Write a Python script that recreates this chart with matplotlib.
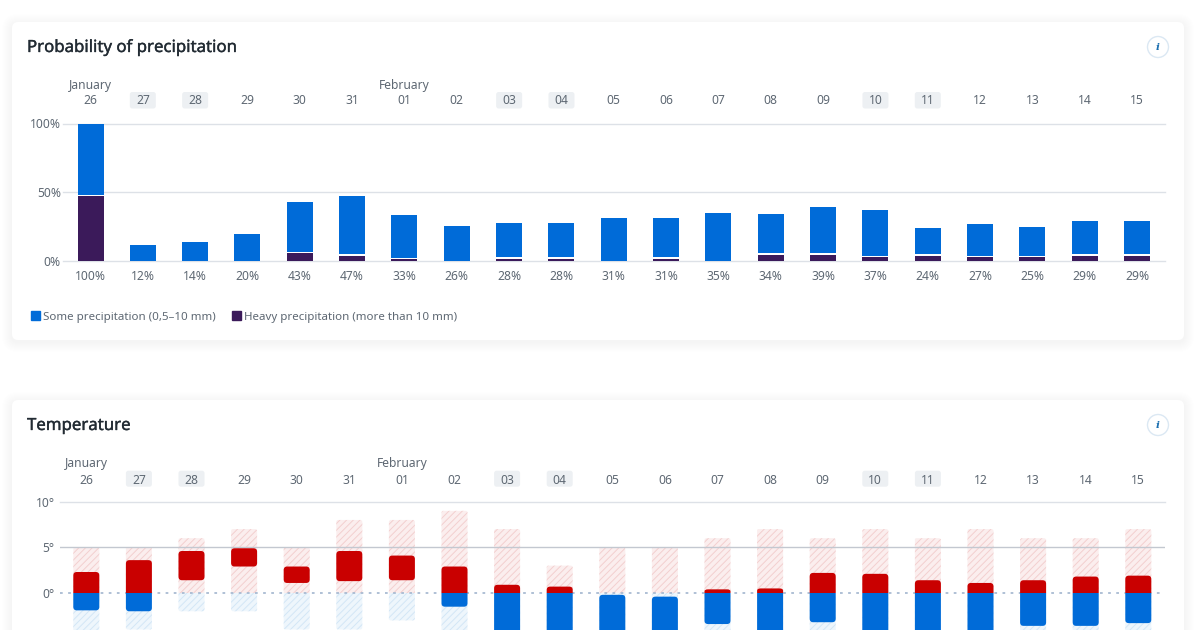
"""Probability of precipitation and temperature cards from a long range forecast."""

import matplotlib

matplotlib.use("Agg")
import matplotlib.patheffects as pe
import matplotlib.pyplot as plt
import numpy as np
from matplotlib.patches import Circle, FancyBboxPatch, Patch, PathPatch
from matplotlib.path import Path
from matplotlib.transforms import blended_transform_factory

# ===== Data =====
DAYS = ["26", "27", "28", "29", "30", "31", "01", "02", "03", "04", "05",
        "06", "07", "08", "09", "10", "11", "12", "13", "14", "15"]
WEEKEND = [1, 2, 8, 9, 15, 16]
MONTHS = [(0, "January"), (6, "February")]

PRECIP_LABELS = [100, 12, 14, 20, 43, 47, 33, 26, 28, 28, 31,
                 31, 35, 34, 39, 37, 24, 27, 25, 29, 29]
PRECIP_TOTAL = [100, 11.3, 13.3, 19, 43, 47.2, 33.2, 25, 27.4, 27.4, 30.8,
                31.2, 34.7, 33.7, 38.7, 36.7, 23.7, 26.6, 24.8, 28.8, 28.8]
PRECIP_HEAVY = [47, 0, 0, 0, 5.3, 3.4, 1, 0, 1.2, 1.2, 0,
                1.2, 0, 4.3, 4.3, 2.3, 3.3, 2.3, 2.3, 3.3, 3.3]
PRECIP_TICKS = [0, 50, 100]

TEMP_LIGHT_HIGH = [5, 5, 6, 7, 5, 8, 8, 9, 7, 3, 5, 5, 6, 7, 6, 7, 6, 7, 6, 6, 7]
TEMP_LIGHT_LOW = [-5, -4, -2, -2, -4, -4, -3, -5, -7, -7, -7,
                  -7, -5, -7, -5, -7, -7, -7, -5, -5, -5]
TEMP_HIGH = [2.3, 3.6, 4.6, 4.9, 2.9, 4.6, 4.1, 2.9, 0.9, 0.7, -0.2,
             -0.4, 0.4, 0.5, 2.2, 2.1, 1.4, 1.1, 1.4, 1.8, 1.9]
TEMP_LOW = [-1.9, -2.0, 1.4, 2.9, 1.1, 1.3, 1.4, -1.5, -6, -6, -6,
            -6, -3.4, -6, -3.2, -6, -6, -6, -3.6, -3.6, -3.3]
TEMP_TICKS = [0, 5, 10]

# ===== Styling =====
BLUE = "#006bd8"
PURPLE = "#3b1a5a"
RED = "#c90000"
TEXT = "#5e6873"
TITLE = "#222b33"
GRID = "#dde1e7"

W, H = 1200, 630
BAR_W_PX = 26

plt.rcParams["font.family"] = ["Noto Sans", "DejaVu Sans"]
plt.rcParams["hatch.linewidth"] = 0.7


def add_axes_px(fig, left, right, top, bottom):
    ax = fig.add_axes([left / W, 1 - bottom / H, (right - left) / W, (bottom - top) / H])
    ax.patch.set_visible(False)
    for spine in ax.spines.values():
        spine.set_visible(False)
    ax.set_zorder(2)
    return ax


def draw_card(bg, top, bottom):
    # soft shadow made from stacked translucent boxes
    for grow in range(10, 0, -1):
        bg.add_patch(FancyBboxPatch((12 - grow, top - grow + 2), 1172 + 2 * grow, bottom - top + 2 * grow,
                                    boxstyle=f"round,pad=0,rounding_size={6 + grow}",
                                    fc="#1a2a3a", ec="none", alpha=0.004, zorder=1))
    bg.add_patch(FancyBboxPatch((12, top), 1172, bottom - top, boxstyle="round,pad=0,rounding_size=6",
                                fc="white", ec="none", zorder=2))


def draw_title(bg, y, label):
    bg.text(27, y, label, fontsize=12.1, color=TITLE, va="center", zorder=4,
            path_effects=[pe.withStroke(linewidth=0.25, foreground=TITLE)])


def draw_info(bg, y):
    bg.add_patch(Circle((1158, y), 10.5, fc="white", ec="#dbe8f3", lw=1.0, zorder=3))
    bg.text(1158, y, "i", ha="center", va="center", fontsize=7.5, color="#1b6fb0",
            style="italic", fontweight="bold", family="DejaVu Serif", zorder=4)


def draw_badges(bg, x0, dx, top, bottom):
    for i in WEEKEND:
        cx = x0 + i * dx
        bg.add_patch(FancyBboxPatch((cx - 13, top), 26, bottom - top, boxstyle="round,pad=0,rounding_size=2.5",
                                    fc="#edf0f3", ec="none", zorder=3))


def rounded_bar(ax, x, y0, y1, rx, ry, round_top=True, round_bottom=True, **kwargs):
    half = BAR_W_PX / 2 / ax.x_px
    ry_t = min(ry, (y1 - y0) / 2) if round_top else 0
    ry_b = min(ry, (y1 - y0) / 2) if round_bottom else 0
    l, r = x - half, x + half
    verts = [(l, y0 + ry_b), (l, y1 - ry_t), (l, y1), (l + rx, y1), (r - rx, y1), (r, y1), (r, y1 - ry_t),
             (r, y0 + ry_b), (r, y0), (r - rx, y0), (l + rx, y0), (l, y0), (l, y0 + ry_b)]
    codes = [Path.MOVETO, Path.LINETO, Path.CURVE3, Path.CURVE3, Path.LINETO, Path.CURVE3, Path.CURVE3,
             Path.LINETO, Path.CURVE3, Path.CURVE3, Path.LINETO, Path.CURVE3, Path.CURVE3]
    ax.add_patch(PathPatch(Path(verts, codes), **kwargs))


def style_axis(ax, x, ytick_labels, yticks, pad_y, top_labels, pad_top):
    ax.set_yticks(yticks)
    ax.set_yticklabels(ytick_labels, fontsize=8.7, color=TEXT)
    ax.tick_params(axis="y", length=0, pad=pad_y)
    top = ax.secondary_xaxis("top")
    top.set_xticks(x)
    top.set_xticklabels(top_labels, fontsize=8.7, color=TEXT)
    top.tick_params(length=0, pad=pad_top)
    for spine in top.spines.values():
        spine.set_visible(False)
    trans = blended_transform_factory(ax.transData, ax.transAxes)
    return trans


def plot_precip(fig, bg):
    x0, dx = 90.5, 52.33
    left, right, top, bottom = 63, 1165, 123.5, 260.5
    ax = add_axes_px(fig, left, right, top, bottom)
    x = np.arange(len(DAYS))
    ax.set_xlim((left - x0) / dx, (right - x0) / dx)
    ax.set_ylim(0, 100)
    ax.x_px = dx

    total = np.array(PRECIP_TOTAL, dtype=float)
    heavy = np.array(PRECIP_HEAVY, dtype=float)
    width = BAR_W_PX / dx

    for tick in PRECIP_TICKS:
        ax.axhline(tick, color=GRID, lw=1.0, zorder=1, clip_on=False)
    # white gap of about 1.5 px between the two stacked parts
    gap = np.where(heavy > 0, 1.1, 0)
    ax.bar(x, total - heavy - gap, width, bottom=heavy + gap, color=BLUE, zorder=2, clip_on=False)
    ax.bar(x, heavy, width, color=PURPLE, zorder=3, clip_on=False)

    ax.set_xticks(x)
    ax.set_xticklabels([f"{v}%" for v in PRECIP_LABELS], fontsize=8.7, color=TEXT)
    ax.tick_params(axis="x", length=0, pad=6.5)
    trans = style_axis(ax, x, [f"{t}%" for t in PRECIP_TICKS], PRECIP_TICKS, 1.5, DAYS, 11.6)
    for i, name in MONTHS:
        ax.text(i, (bottom - 85) / (bottom - top), name, transform=trans, ha="center", va="center",
                fontsize=8.7, color=TEXT)

    handles = [Patch(color=BLUE, label="Some precipitation (0,5–10 mm)"),
               Patch(color=PURPLE, label="Heavy precipitation (more than 10 mm)")]
    ax.legend(handles=handles, ncol=2, frameon=False, loc="center left",
              bbox_to_anchor=((31 - left) / (right - left), (bottom - 317) / (bottom - top)),
              borderaxespad=0, borderpad=0, fontsize=8.3, labelcolor=TEXT, handlelength=0.78,
              handleheight=0.78, handletextpad=0.26, columnspacing=1.38)
    draw_badges(bg, x0, dx, 92, 108.5)


def plot_temp(fig, bg):
    x0, dx = 86.3, 52.6
    left, right, top, bottom = 60, 1165, 501.7, 630
    px_per_deg = 9.13
    ax = add_axes_px(fig, left, right, top, bottom)
    x = np.arange(len(DAYS))
    ax.set_xlim((left - x0) / dx, (right - x0) / dx)
    ax.set_ylim(10 - (bottom - top) / px_per_deg, 10)
    ax.x_px = dx

    ax.axhline(10, color=GRID, lw=1.0, zorder=3, clip_on=False)
    ax.axhline(5, color="#c3c8d0", lw=1.0, zorder=3)
    ax.axhline(0, color="#a9bbd2", lw=1.3, ls=(0, (1.5, 3)), zorder=3)

    rx_l, ry_l = 2 / dx, 2 / px_per_deg
    rx_d, ry_d = 3.5 / dx, 3.5 / px_per_deg
    for i in x:
        hi, lo = TEMP_LIGHT_HIGH[i], TEMP_LIGHT_LOW[i]
        rounded_bar(ax, i, 0, hi, rx_l, ry_l, round_bottom=False, fc="#fbeeee", ec="#f3cfcf",
                    hatch="/////", lw=0, zorder=2)
        rounded_bar(ax, i, lo, 0, rx_l, ry_l, round_top=False, fc="#eef6fc", ec="#d3e6f6",
                    hatch="/////", lw=0, zorder=2)
        d_hi, d_lo = TEMP_HIGH[i], TEMP_LOW[i]
        if d_hi > 0:
            rounded_bar(ax, i, max(d_lo, 0), d_hi, rx_d, ry_d, round_bottom=d_lo > 0, fc=RED, ec="none", zorder=4)
        if d_lo < 0:
            rounded_bar(ax, i, d_lo, min(d_hi, 0), rx_d, ry_d, round_top=d_hi < 0, fc=BLUE, ec="none", zorder=4)

    ax.set_xticks([])
    trans = style_axis(ax, x, [f"{t}°" for t in TEMP_TICKS], TEMP_TICKS, 4, DAYS, 10.9)
    for i, name in MONTHS:
        ax.text(i, (bottom - 463) / (bottom - top), name, transform=trans, ha="center", va="center",
                fontsize=8.7, color=TEXT)
    draw_badges(bg, x0, dx, 470.7, 486.7)


def main():
    fig = plt.figure(figsize=(W / 100, H / 100), dpi=100, facecolor="white")
    bg = fig.add_axes([0, 0, 1, 1])
    bg.set_xlim(0, W)
    bg.set_ylim(H, 0)
    bg.axis("off")
    bg.set_zorder(1)

    draw_card(bg, 22, 340)
    draw_card(bg, 400, 700)
    draw_title(bg, 48, "Probability of precipitation")
    draw_title(bg, 426, "Temperature")
    draw_info(bg, 47)
    draw_info(bg, 425)

    plot_precip(fig, bg)
    plot_temp(fig, bg)
    fig.savefig("out.png", dpi=100, facecolor="white")


if __name__ == "__main__":
    main()
